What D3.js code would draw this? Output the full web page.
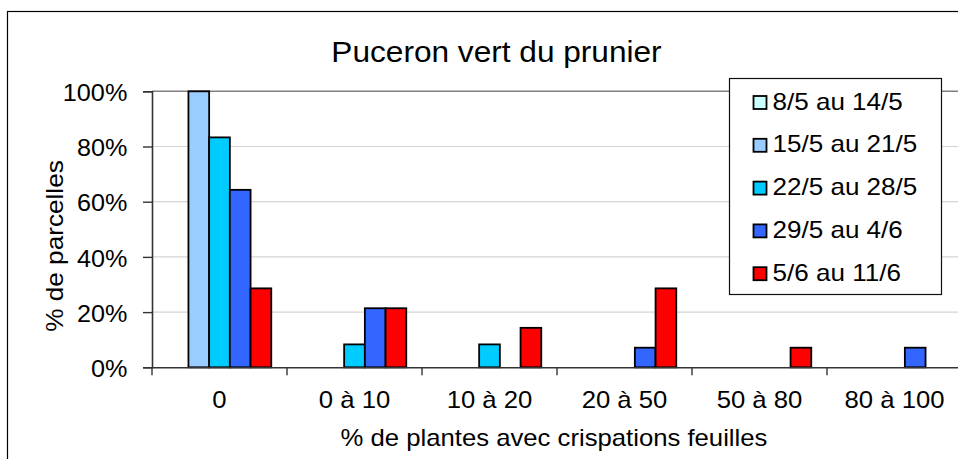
<!DOCTYPE html>
<html><head><meta charset="utf-8">
<script src="https://cdn.jsdelivr.net/npm/d3@7"></script>
<style>body{margin:0;background:#fff}svg{display:block}text{font-family:"Liberation Sans",Arial,sans-serif;fill:#000}</style>
</head><body>
<script>
const categories = ["0", "0 à 10", "10 à 20", "20 à 50", "50 à 80", "80 à 100"];
const seriesNames = ["8/5 au 14/5", "15/5 au 21/5", "22/5 au 28/5", "29/5 au 4/6", "5/6 au 11/6"];
const s1 = [0, 0, 0, 0, 0, 0];
const s2 = [100, 0, 0, 0, 0, 0];
const s3 = [83.3, 8.3, 8.3, 0, 0, 0];
const s4 = [64.3, 21.4, 0, 7.1, 0, 7.1];
const s5 = [28.6, 21.4, 14.3, 28.6, 7.1, 0];
const seriesValues = [s1, s2, s3, s4, s5];
const colors = ["#CCFFFF", "#99CCFF", "#00CCFF", "#3366FF", "#FF0000"];
const yTicks = [0, 20, 40, 60, 80, 100];

const FONT = '"Liberation Sans",Arial,sans-serif';
function stretch(sel, k) {
  sel.each(function () {
    const l = this.getComputedTextLength();
    this.setAttribute("textLength", (l * k).toFixed(1));
    this.setAttribute("lengthAdjust", "spacingAndGlyphs");
  });
}

const W = 958, H = 459;
const svg = d3.select("body").append("svg").attr("width", W).attr("height", H);
svg.append("rect").attr("x", 7.5).attr("y", 11.5).attr("width", 1000).attr("height", 1000)
  .attr("fill", "#fff").attr("stroke", "#000").attr("stroke-width", 1.2);

const L = 152, R = 962, T = 91.3, B = 367.3;
const x = d3.scaleBand().domain(categories).range([L, R]).paddingInner(0).paddingOuter(0);
const y = d3.scaleLinear().domain([0, 100]).range([B, T]);
const inner = d3.scaleBand().domain(d3.range(seriesNames.length)).range([0, x.bandwidth()]).paddingInner(0).paddingOuter(0.76);

// gridlines
svg.append("g").selectAll("line").data(yTicks.filter(d => d > 0 && d < 100)).join("line")
  .attr("x1", L).attr("x2", R).attr("y1", d => y(d)).attr("y2", d => y(d))
  .attr("stroke", "#d4d4d4").attr("stroke-width", 1.2);
svg.append("line").attr("x1", L).attr("x2", R).attr("y1", y(100)).attr("y2", y(100))
  .attr("stroke", "#808080").attr("stroke-width", 1.6);

// bars
const bars = [];
seriesValues.forEach((vals, si) => vals.forEach((v, ci) => { if (v > 0) bars.push({si, ci, v}); }));
svg.append("g").selectAll("rect").data(bars).join("rect")
  .attr("x", d => x(categories[d.ci]) + inner(d.si))
  .attr("width", inner.bandwidth())
  .attr("y", d => y(d.v)).attr("height", d => y(0) - y(d.v))
  .attr("fill", d => colors[d.si]).attr("stroke", "#000").attr("stroke-width", 1.8);

// y axis
const yAxis = svg.append("g").attr("transform", `translate(${L},0)`)
  .call(d3.axisLeft(y).tickValues(yTicks).tickFormat(d => d + "%").tickSize(9).tickPadding(15.7));
yAxis.select(".domain").attr("stroke", "#333").attr("stroke-width", 1.6);
yAxis.selectAll(".tick line").attr("stroke", "#333").attr("stroke-width", 1.4);
yAxis.selectAll("text").style("font-size", "24px").style("font-family", FONT).attr("fill", "#000").attr("dy", "0.38em");
stretch(yAxis.selectAll("text"), 1.05);

// x axis
const xAxis = svg.append("g").attr("transform", `translate(0,${B})`)
  .call(d3.axisBottom(x).tickSize(0).tickPadding(0));
xAxis.select(".domain").attr("stroke", "#333").attr("stroke-width", 1.6);
xAxis.selectAll("text").style("font-size", "24px").style("font-family", FONT).attr("fill", "#000")
  .attr("y", 40.5).attr("dy", 0);
stretch(xAxis.selectAll("text"), 1.07);
const boundaries = categories.map(c => x(c)).concat([R]);
svg.append("g").selectAll("line").data(boundaries.filter(b => b < W)).join("line")
  .attr("x1", d => d).attr("x2", d => d).attr("y1", B).attr("y2", B + 8)
  .attr("stroke", "#333").attr("stroke-width", 1.4);

// titles
const title = svg.append("text").attr("x", 496.5).attr("y", 62).attr("text-anchor", "middle")
  .style("font-size", "29px").text("Puceron vert du prunier");
stretch(title, 1.09);
const ylab = svg.append("text").attr("transform", "translate(63,246) rotate(-90)").attr("text-anchor", "middle")
  .style("font-size", "24px").text("% de parcelles");
stretch(ylab, 1.09);
const xlab = svg.append("text").attr("x", 554).attr("y", 446).attr("text-anchor", "middle")
  .style("font-size", "24px").text("% de plantes avec crispations feuilles");
stretch(xlab, 1.07);

// legend
const lg = svg.append("g");
lg.append("rect").attr("x", 729.5).attr("y", 78.5).attr("width", 212).attr("height", 216)
  .attr("fill", "#fff").attr("stroke", "#111").attr("stroke-width", 1.2);
const items = lg.selectAll("g.item").data(seriesNames).join("g").attr("class", "item")
  .attr("transform", (d, i) => `translate(753,${109.5 + i * 42.8})`);
items.append("rect").attr("x", 0.5).attr("y", -13.5).attr("width", 13).attr("height", 13)
  .attr("fill", (d, i) => colors[i]).attr("stroke", "#000").attr("stroke-width", 1.8);
const ltxt = items.append("text").attr("x", 19.5).attr("y", 0).style("font-size", "24px").text(d => d);
stretch(ltxt, 1.085);
</script>
</body></html>
